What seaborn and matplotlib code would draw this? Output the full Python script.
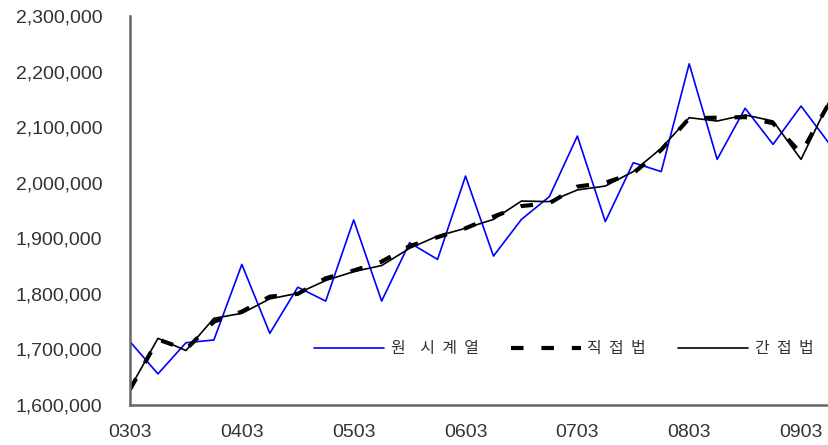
import numpy as np
import pandas as pd
import seaborn as sns
import matplotlib.pyplot as plt
from matplotlib.ticker import FuncFormatter

# quarterly periods 2003Q1 .. 2009Q2
periods = [f"{y:02d}{m:02d}" for y in range(3, 10) for m in (3, 6, 9, 12)][:26]

original = [1714000, 1656000, 1712000, 1717000, 1853000, 1729000, 1812000, 1787000,
            1933000, 1787000, 1892000, 1862000, 2012000, 1868000, 1934000, 1975000,
            2084000, 1930000, 2036000, 2020000, 2214000, 2042000, 2134000, 2069000,
            2138000, 2071000]
direct = [1628000, 1718000, 1700000, 1750000, 1768000, 1795000, 1800000, 1828000,
          1842000, 1858000, 1886000, 1902000, 1918000, 1939000, 1958000, 1963000,
          1993000, 2000000, 2017000, 2059000, 2116000, 2117000, 2118000, 2107000,
          2053000, 2143000]
indirect = [1630000, 1720000, 1698000, 1756000, 1765000, 1791000, 1801000, 1824000,
            1840000, 1851000, 1882000, 1904000, 1918000, 1934000, 1967000, 1966000,
            1987000, 1994000, 2020000, 2062000, 2117000, 2111000, 2122000, 2111000,
            2042000, 2146000]

# legend labels, spaced out like the original
labels = ["원    시  계  열", "직  접  법", "간  접  법"]

sns.set_style("white")
plt.rcParams['font.family'] = ['Noto Sans CJK KR', 'DejaVu Sans']

fig = plt.figure(figsize=(8.29, 4.45), dpi=100)
ax = fig.add_axes([130 / 829, 40 / 445, 1 - 130 / 829, 389 / 445])

x = np.arange(len(periods))
sns.lineplot(x=x, y=original, ax=ax, color="#0000ff", linewidth=1.2, label=labels[0])
sns.lineplot(x=x, y=direct, ax=ax, color="black", linewidth=3.0, label=labels[1],
             linestyle=(0, (3, 4.3)))
sns.lineplot(x=x, y=indirect, ax=ax, color="black", linewidth=1.2, label=labels[2])

ax.set_xlim(0, len(periods) - 1)
ax.set_ylim(1600000, 2300000)
ax.set_yticks(np.arange(1600000, 2300001, 100000))
ax.yaxis.set_major_formatter(FuncFormatter(lambda v, p: f"{int(v):,}"))
ax.set_xticks(x[::4])
ax.set_xticklabels(periods[::4])
for t in ax.get_xticklabels() + ax.get_yticklabels():
    t.set_fontfamily("Liberation Sans")

for s in ["top", "right"]:
    ax.spines[s].set_visible(False)
for s in ["left", "bottom"]:
    ax.spines[s].set_color("#666666")
    ax.spines[s].set_linewidth(1.8)
ax.tick_params(direction="in", length=7, width=1, color="#333333",
               labelsize=14, labelcolor="#333333")
ax.tick_params(axis="x", pad=14)
ax.tick_params(axis="y", pad=20)

ax.legend(loc="center left", bbox_to_anchor=((314 - 130) / 699, 56 / 389), ncol=3,
          frameon=False, fontsize=11.5, handlelength=4.4, handletextpad=0.4,
          columnspacing=2.0, borderpad=0, borderaxespad=0, labelcolor="#333333")

fig.savefig("out.png", dpi=100)
